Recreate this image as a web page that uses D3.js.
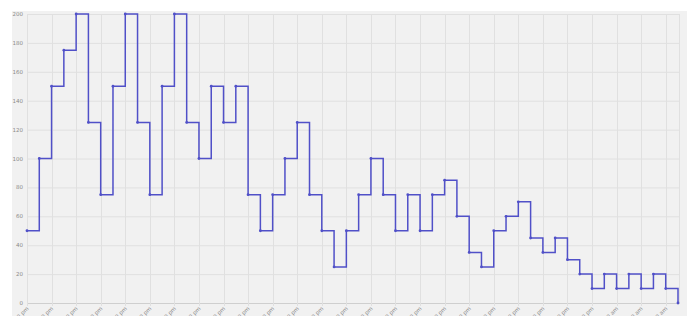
<!DOCTYPE html>
<html>
<head>
<meta charset="utf-8">
<script src="https://cdn.jsdelivr.net/npm/d3@7"></script>
<style>
  html, body { margin: 0; padding: 0; background: #ffffff; }
  svg { display: block; }
</style>
</head>
<body>
<svg id="chart" width="687" height="316"></svg>
<script>
const values = [50, 100, 150, 175, 200, 125, 75, 150, 200, 125, 75, 150, 200, 125, 100, 150, 125, 150,
  75, 50, 75, 100, 125, 75, 50, 25, 50, 75, 100, 75, 50, 75, 50, 75, 85, 60, 35, 25, 50, 60, 70,
  45, 35, 45, 30, 20, 10, 20, 10, 20, 10, 20, 10, 0];
const tickLabels = ["12:00 pm", "12:30 pm", "1:00 pm", "1:30 pm", "2:00 pm", "2:30 pm", "3:00 pm",
  "3:30 pm", "4:00 pm", "4:30 pm", "5:00 pm", "5:30 pm", "6:00 pm", "6:30 pm", "7:00 pm", "7:30 pm",
  "8:00 pm", "8:30 pm", "9:00 pm", "9:30 pm", "10:00 pm", "10:30 pm", "11:00 pm", "11:30 pm",
  "12:00 am", "12:30 am", "1:00 am"];
const yTicks = [0, 20, 40, 60, 80, 100, 120, 140, 160, 180, 200];

(function () {
const svg = d3.select("#chart");
const W = 687, H = 316;
const mLeft = 27, mRight = 679.5, mTop = 14, mBottom = 303;

// background
svg.append("rect").attr("x", 12).attr("y", 11).attr("width", W - 12).attr("height", H - 11)
  .attr("fill", "#f1f1f1");

const x = d3.scaleLinear().domain([0, values.length - 1]).range([mLeft, 678]);
const y = d3.scaleLinear().domain([0, 200]).range([mBottom, mTop]);

const tickIdx = tickLabels.map((d, i) => i * 2);

// grid
const g = svg.append("g");
g.selectAll("line.h").data(yTicks).join("line")
  .attr("x1", mLeft).attr("x2", mRight)
  .attr("y1", d => y(d) + 0.5).attr("y2", d => y(d) + 0.5)
  .attr("stroke", d => d === 0 ? "#cfcfcf" : "#e0e0e0").attr("stroke-width", 1);
g.selectAll("line.v").data(tickIdx).join("line")
  .attr("x1", d => Math.round(x(d)) + 0.5).attr("x2", d => Math.round(x(d)) + 0.5)
  .attr("y1", mTop).attr("y2", mBottom + 3)
  .attr("stroke", "#e0e0e0").attr("stroke-width", 1);
g.append("line").attr("x1", mRight).attr("x2", mRight).attr("y1", mTop).attr("y2", mBottom)
  .attr("stroke", "#e0e0e0");

// y labels
svg.append("g").selectAll("text").data(yTicks).join("text")
  .attr("x", 23).attr("y", d => y(d) + 2)
  .attr("text-anchor", "end")
  .attr("font-family", "DejaVu Sans, sans-serif").attr("font-size", 5.5)
  .attr("fill", "#8a8a8a")
  .text(d => d);

// x labels
svg.append("g").selectAll("text").data(tickIdx).join("text")
  .attr("transform", d => `translate(${x(d) + 2},${mBottom + 6}) rotate(-45)`)
  .attr("text-anchor", "end")
  .attr("font-family", "DejaVu Sans, sans-serif").attr("font-size", 5.5)
  .attr("fill", "#8a8a8a")
  .text((d, i) => tickLabels[i]);

// line
const line = d3.line().x((d, i) => x(i)).y(d => y(d)).curve(d3.curveStepAfter);
svg.append("path").datum(values).attr("d", line)
  .attr("fill", "none").attr("stroke", "#5050c8").attr("stroke-width", 1.5);

svg.append("g").selectAll("circle").data(values).join("circle")
  .attr("cx", (d, i) => x(i)).attr("cy", d => y(d)).attr("r", 1.4)
  .attr("fill", "#5050c8");
})();
</script>
</body>
</html>
